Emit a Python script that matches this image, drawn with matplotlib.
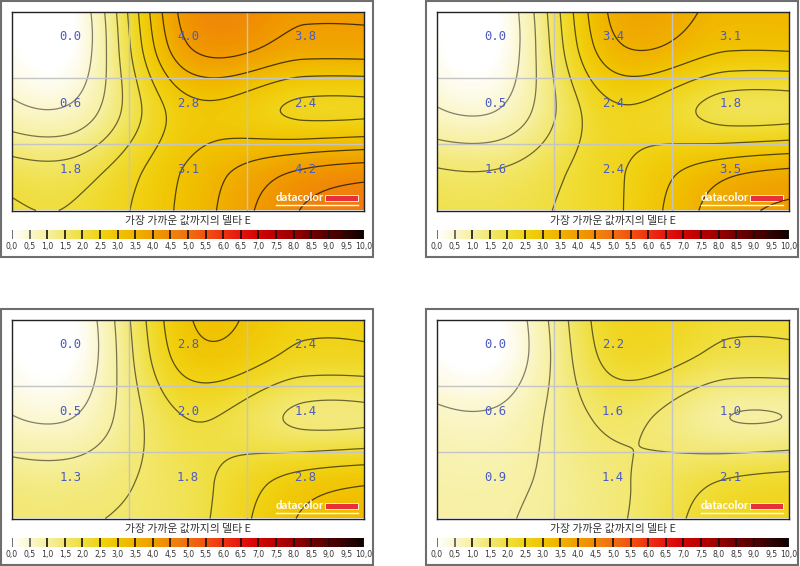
import numpy as np
import matplotlib.pyplot as plt
from matplotlib.colors import LinearSegmentedColormap
from matplotlib.patches import Rectangle
from matplotlib.lines import Line2D

# 3x3 delta E values per panel (row by row, top to bottom)
panel_tl = [[0.0, 4.0, 3.8],
            [0.6, 2.8, 2.4],
            [1.8, 3.1, 4.2]]
panel_tr = [[0.0, 3.4, 3.1],
            [0.5, 2.4, 1.8],
            [1.6, 2.4, 3.5]]
panel_bl = [[0.0, 2.8, 2.4],
            [0.5, 2.0, 1.4],
            [1.3, 1.8, 2.8]]
panel_br = [[0.0, 2.2, 1.9],
            [0.6, 1.6, 1.0],
            [0.9, 1.4, 2.1]]
panels = [panel_tl, panel_tr, panel_bl, panel_br]

cbar_title = "가장 가까운 값까지의 델타 E"
cbar_ticks = np.arange(0, 10.01, 0.5)
cbar_labels = [f"{t:.1f}".replace(".", ",") for t in cbar_ticks]

# colour scale
cmap_colors = ["#ffffff", "#fbf6c8", "#f6ef9c", "#f2e666", "#f0dc32", "#f0cf0e",
               "#f0bf00", "#f0aa00", "#f09400", "#f07c10", "#f06010", "#f04010",
               "#e82010", "#d80808", "#c00000", "#a00000", "#780000", "#580000",
               "#380000", "#100000"]
cmap = LinearSegmentedColormap.from_list("dE", list(zip(np.linspace(0, 1, 20), cmap_colors)))

W, H = 800, 566


def px(x, y, w, h):
    return [x / W, 1 - (y + h) / H, w / W, h / H]


def ghost(v0, v1):
    # extend past the outer nodes: keep rising toward peaks, lean back at lows
    k = 0.3 if v0 > v1 else -0.2
    return v0 + k * (v0 - v1)


def extend(V):
    E = np.zeros((5, 5))
    E[1:4, 1:4] = V
    for r in range(1, 4):
        E[r, 0] = ghost(E[r, 1], E[r, 2])
        E[r, 4] = ghost(E[r, 3], E[r, 2])
    for c in range(5):
        E[0, c] = ghost(E[1, c], E[2, c])
        E[4, c] = ghost(E[3, c], E[2, c])
    return E


def weights(t):
    # Catmull-Rom weights over 5 nodes at -1/6 .. 7/6
    p = np.array([-1, 1, 3, 5, 7]) / 6.0
    h = 1 / 3
    I = np.eye(5)
    m = np.zeros((5, 5))
    m[0] = (I[1] - I[0]) / h
    m[4] = (I[4] - I[3]) / h
    for i in range(1, 4):
        m[i] = (I[i + 1] - I[i - 1]) / (2 * h)
    out = np.zeros((len(t), 5))
    for j, tt in enumerate(t):
        i = min(int((tt - p[0]) / h), 3)
        s = (tt - p[i]) / h
        h00 = 2 * s**3 - 3 * s**2 + 1
        h10 = s**3 - 2 * s**2 + s
        h01 = -2 * s**3 + 3 * s**2
        h11 = s**3 - s**2
        out[j] = h00 * I[i] + h10 * h * m[i] + h01 * I[i + 1] + h11 * h * m[i + 1]
    return out


xs = np.linspace(0, 1, 352)
ys = np.linspace(0, 1, 199)
Wx = weights(xs)
Wy = weights(ys)

fig = plt.figure(figsize=(8, 5.66), dpi=100)
offsets = [(0, 0), (425, 0), (0, 308), (425, 308)]

for vals, (ox, oy) in zip(panels, offsets):
    V = np.array(vals)
    Z = np.clip(Wy @ extend(V) @ Wx.T, 0, 10)

    fig.add_artist(Rectangle((ox + 1, H - oy - 257), 372, 256, transform=None,
                             fill=False, ec="#6e6e6e", lw=1.5))

    ax = fig.add_axes(px(ox + 12, oy + 11.5, 352, 199))
    ax.imshow(Z, extent=(0, 1, 1, 0), cmap=cmap, vmin=0, vmax=10,
              aspect="auto", interpolation="bilinear")
    X, Y = np.meshgrid(xs, ys)
    levels = np.arange(0.5, 10, 0.5)
    lcols = [tuple(np.array(cmap(l / 10)[:3]) * max(0.55 - 0.07 * l, 0.3)) for l in levels]
    ax.contour(X, Y, Z, levels=levels, colors=lcols, linewidths=0.9)
    for g in (1 / 3, 2 / 3):
        ax.axvline(g, color="#c4c4c4", lw=1)
        ax.axhline(g, color="#c4c4c4", lw=1)
    for r in range(3):
        for c in range(3):
            ax.text(c / 3 + 1 / 6, r / 3 + 1 / 6 - 0.04, f"{V[r, c]:.1f}",
                    ha="center", va="center", fontsize=8.8,
                    family="DejaVu Sans Mono", color="#4b5cc0")
    ax.set_xlim(0, 1)
    ax.set_ylim(1, 0)
    ax.set_xticks([])
    ax.set_yticks([])
    for s in ax.spines.values():
        s.set_color("#222222")
        s.set_linewidth(1)

    # datacolor logo
    ax.text(0.75, 0.05, "datacolor", transform=ax.transAxes, ha="left",
            va="baseline", fontsize=8.2, weight="bold", family="Lato", color="white")
    ax.add_patch(Rectangle((0.888, 0.05), 0.094, 0.03, transform=ax.transAxes,
                           fc="#e8303a", ec="white", lw=0.6))
    ax.add_line(Line2D([0.75, 0.984], [0.03, 0.03], transform=ax.transAxes,
                       color="white", lw=1))

    # colour legend
    fig.text((ox + 188) / W, 1 - (oy + 221) / H, cbar_title, ha="center", va="center",
             fontsize=7.8, family=["Noto Sans CJK KR", "DejaVu Sans"], color="#333333")
    cax = fig.add_axes(px(ox + 12, oy + 230, 352, 9))
    grad = np.linspace(0, 10, 600).reshape(1, -1)
    cax.imshow(grad, extent=(0, 10, 0, 1), cmap=cmap, vmin=0, vmax=10, aspect="auto")
    for i, t in enumerate(cbar_ticks):
        cax.plot([t, t], [0, 1], color="#111111" if i > 1 else "#555555", lw=1.2)
    cax.set_xlim(0, 10)
    cax.set_ylim(0, 1)
    cax.axis("off")
    for t, lab in zip(cbar_ticks, cbar_labels):
        fig.text((ox + 12 + t * 35.2) / W, 1 - (oy + 247) / H, lab, ha="center",
                 va="center", fontsize=5.6, color="#333333")

fig.savefig("out.png", dpi=100)
